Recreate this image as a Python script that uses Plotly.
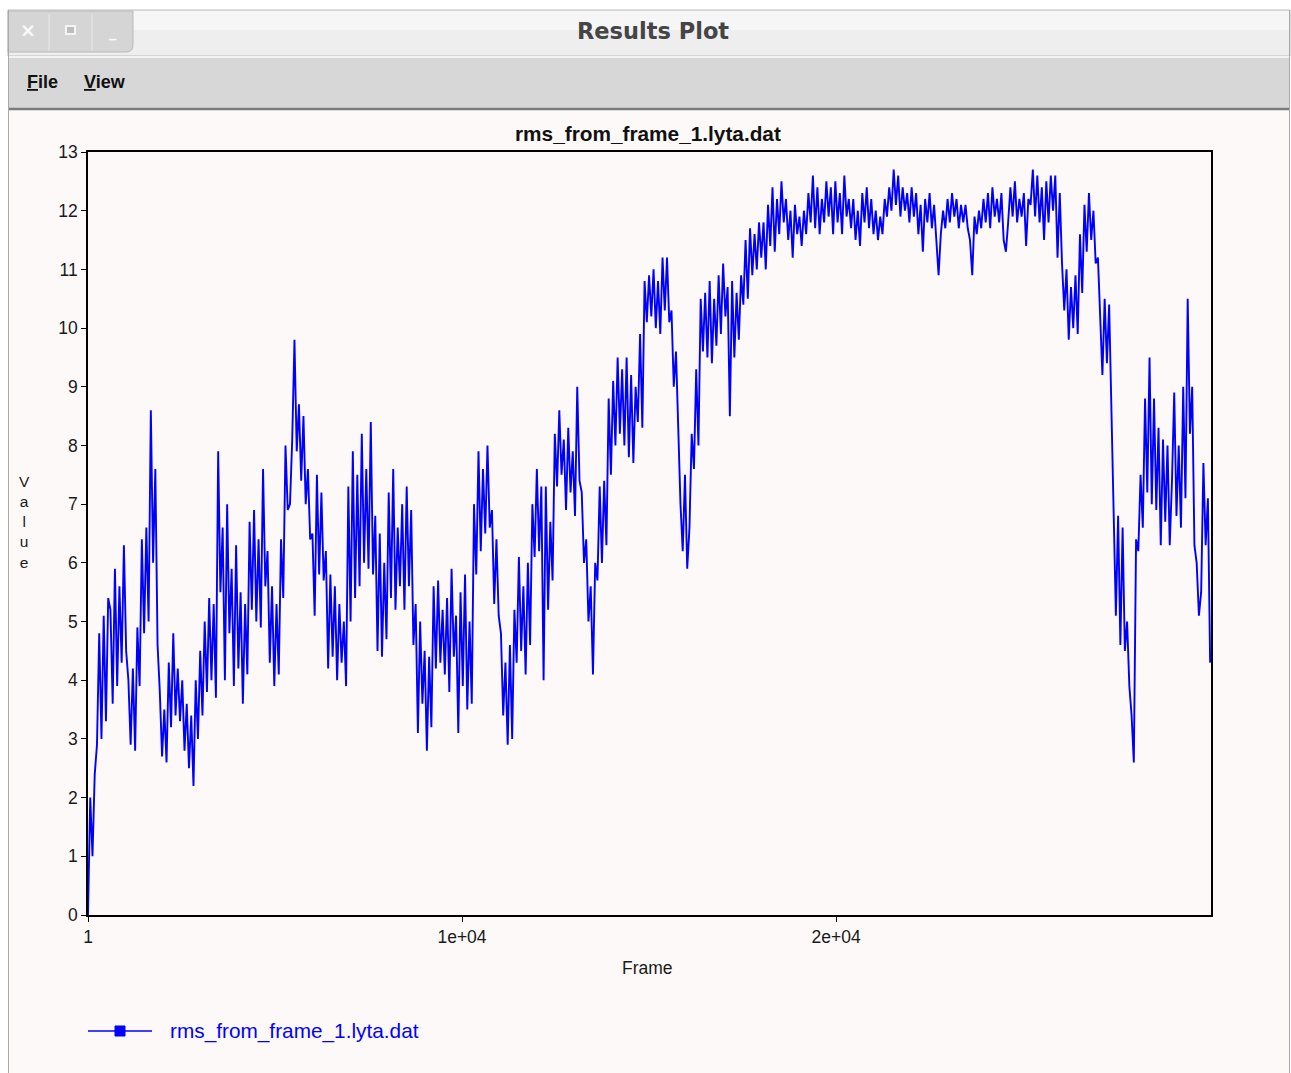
import plotly.graph_objects as go

# ---- data: RMS deviation from frame 1, one sample every 60 frames ----
frame_step = 60
rms_values = [
    0.0, 2.0, 1.0, 2.4, 2.9, 4.8, 3.0, 5.1, 3.3, 5.4,
    5.2, 3.6, 5.9, 3.9, 5.6, 4.3, 6.3, 4.5, 4.0, 2.9,
    4.2, 2.8, 4.9, 3.9, 6.4, 4.8, 6.6, 5.0, 8.6, 6.0,
    7.6, 4.6, 3.8, 2.7, 3.5, 2.6, 4.3, 3.2, 4.8, 3.4,
    4.2, 3.3, 4.0, 2.8, 3.6, 2.5, 3.4, 2.2, 4.0, 3.0,
    4.5, 3.4, 5.0, 3.8, 5.4, 4.0, 5.3, 3.7, 7.9, 5.5,
    6.6, 4.0, 7.0, 4.8, 5.9, 3.9, 6.3, 4.2, 5.5, 3.6,
    5.3, 4.1, 6.7, 5.2, 6.9, 5.0, 6.4, 4.9, 7.6, 5.6,
    6.2, 4.3, 5.6, 3.9, 5.3, 4.1, 6.4, 5.4, 8.0, 6.9,
    7.0, 8.1, 9.8, 7.9, 8.7, 7.4, 8.5, 7.0, 7.6, 6.4,
    6.5, 5.1, 7.5, 5.8, 7.2, 5.7, 6.2, 4.2, 5.8, 4.4,
    5.6, 4.0, 5.3, 4.3, 5.0, 3.9, 7.3, 5.0, 7.9, 5.4,
    7.5, 5.6, 8.2, 6.0, 7.6, 5.9, 8.4, 5.8, 6.8, 4.5,
    6.5, 4.4, 6.0, 4.7, 7.2, 5.4, 7.6, 5.2, 6.6, 5.6,
    7.0, 5.2, 7.3, 5.6, 6.9, 4.6, 5.3, 3.1, 5.0, 3.6,
    4.5, 2.8, 4.4, 3.2, 5.6, 4.2, 5.7, 4.3, 5.2, 4.1,
    5.4, 3.8, 5.9, 4.4, 5.1, 3.1, 5.5, 3.9, 5.8, 3.5,
    5.0, 3.6, 7.0, 5.8, 7.9, 6.2, 7.6, 6.5, 8.0, 6.6,
    6.9, 5.3, 6.4, 5.1, 4.8, 3.4, 4.3, 2.9, 4.6, 3.0,
    5.2, 4.3, 6.1, 4.5, 5.6, 4.1, 6.0, 4.6, 7.0, 6.1,
    7.6, 6.2, 7.3, 4.0, 7.3, 5.2, 6.7, 5.7, 8.2, 7.3,
    8.6, 7.5, 8.1, 6.9, 8.3, 7.2, 7.9, 6.8, 9.0, 7.4,
    7.2, 6.0, 6.4, 5.0, 5.6, 4.1, 6.0, 5.7, 7.3, 6.0,
    7.4, 6.3, 8.8, 7.5, 9.1, 8.0, 9.5, 8.2, 9.3, 8.0,
    9.5, 7.8, 9.2, 7.7, 9.0, 8.4, 9.9, 8.3, 10.8, 10.1,
    10.9, 10.2, 11.0, 10.0, 10.8, 9.9, 11.2, 10.3, 11.2, 10.1,
    10.3, 9.0, 9.6, 8.3, 7.0, 6.2, 7.5, 5.9, 6.6, 8.2,
    7.6, 9.3, 8.0, 10.5, 9.6, 10.6, 9.5, 10.8, 9.4, 10.5,
    9.7, 10.9, 9.9, 11.1, 10.2, 10.7, 8.5, 10.8, 9.5, 10.6,
    9.8, 10.9, 10.4, 11.5, 10.5, 11.7, 10.9, 11.6, 11.0, 11.8,
    11.2, 11.8, 11.0, 12.1, 11.4, 12.4, 11.3, 12.2, 11.6, 12.5,
    11.8, 12.2, 11.5, 12.0, 11.2, 12.1, 11.6, 11.9, 11.4, 12.0,
    11.6, 12.3, 11.8, 12.6, 11.7, 12.4, 11.6, 12.2, 11.8, 12.5,
    11.9, 12.4, 11.6, 12.5, 11.8, 12.3, 11.6, 12.6, 11.9, 12.2,
    11.7, 12.2, 11.5, 12.0, 11.4, 12.3, 11.8, 12.4, 11.7, 12.2,
    11.6, 12.0, 11.5, 11.9, 11.6, 12.2, 11.9, 12.4, 12.0, 12.7,
    12.1, 12.6, 11.9, 12.4, 12.0, 12.3, 11.8, 12.4, 11.9, 12.3,
    11.6, 12.1, 11.3, 12.2, 11.8, 12.3, 11.7, 12.1, 11.4, 10.9,
    11.6, 12.0, 11.7, 12.2, 11.8, 12.3, 11.9, 12.2, 11.7, 12.1,
    11.8, 12.1, 11.7, 11.5, 10.9, 11.9, 11.6, 12.0, 11.7, 12.2,
    11.8, 12.3, 11.7, 12.4, 11.9, 12.2, 11.8, 12.3, 11.5, 11.3,
    11.8, 12.4, 11.9, 12.5, 11.8, 12.2, 11.9, 12.3, 11.4, 12.2,
    12.1, 12.7, 11.9, 12.6, 11.8, 12.4, 11.5, 12.5, 11.8, 12.6,
    12.0, 12.6, 11.2, 12.3, 11.1, 10.3, 11.0, 9.8, 10.7, 10.0,
    10.9, 9.9, 11.6, 10.6, 12.1, 11.3, 12.3, 11.5, 12.0, 11.1,
    11.2, 10.0, 9.2, 10.5, 9.4, 10.4, 8.6, 7.0, 5.1, 6.8,
    4.6, 6.6, 4.5, 5.0, 3.9, 3.4, 2.6, 6.4, 6.2, 7.5,
    6.6, 8.8, 7.2, 9.5, 7.0, 8.8, 6.9, 8.3, 6.3, 8.1,
    6.7, 8.0, 6.3, 7.4, 8.9, 6.8, 8.0, 6.6, 9.0, 7.1,
    10.5, 8.2, 9.0, 6.3, 6.0, 5.1, 5.5, 7.7, 6.3, 7.1,
    4.3,
]
frames = [1 + frame_step * i for i in range(len(rms_values))]

series_name = "rms_from_frame_1.lyta.dat"
x_tick_vals = [1, 10000, 20000]
x_tick_text = ["1", "1e+04", "2e+04"]
y_tick_vals = list(range(0, 14))

# ---- page geometry (pixels) ----
W, H = 1291, 1073
PL, PR, PT, PB = 88, 1211, 152, 915          # plot area edges
PW, PH = PR - PL, PB - PT


def X(px):
    return (px - PL) / PW


def Y(py):
    return (PB - py) / PH


BODY = "#fdf9f9"
LINE_BLUE = "#0000ff"
SANS = "Liberation Sans, Arial, sans-serif"
TICK_FONT = dict(family=SANS, size=17.5, color="#1a1a1a")

fig = go.Figure()
fig.add_trace(go.Scatter(
    x=frames, y=rms_values, mode="lines", name=series_name,
    line=dict(color=LINE_BLUE, width=1.9), showlegend=False,
))

shapes = []


def rect(x0, y0, x1, y1, fill, line_color=None, lw=0, layer="below"):
    shapes.append(dict(type="rect", xref="paper", yref="paper",
                       x0=X(x0), x1=X(x1), y0=Y(y1), y1=Y(y0),
                       fillcolor=fill, layer=layer,
                       line=dict(color=line_color or fill, width=lw)))


def hline(x0, x1, y, color, width=1, layer="below"):
    shapes.append(dict(type="line", xref="paper", yref="paper",
                       x0=X(x0), x1=X(x1), y0=Y(y), y1=Y(y),
                       layer=layer, line=dict(color=color, width=width)))


def vline(x, y0, y1, color, width=1, layer="below"):
    shapes.append(dict(type="line", xref="paper", yref="paper",
                       x0=X(x), x1=X(x), y0=Y(y0), y1=Y(y1),
                       layer=layer, line=dict(color=color, width=width)))


# window body
rect(8, 56, 1290, H + 2, BODY)
# title bar
rect(8, 10, 1290, 56, "#eeeeee", "#bcbcbc", 1)
rect(9, 11, 1289, 30, "#f6f6f6")
# window buttons tab with rounded lower-right corner
tab_path = "M {a},{b} L {c},{b} L {c},{d} Q {c},{e} {f},{e} L {a},{e} Z".format(
    a=X(8), b=Y(11), c=X(133), d=Y(45), e=Y(52), f=X(126))
shapes.append(dict(type="path", xref="paper", yref="paper", path=tab_path,
                   fillcolor="#d5d5d5", layer="below",
                   line=dict(color="#b9b9b9", width=1)))
vline(49, 14, 51, "#e9e9e9")
vline(92, 14, 51, "#e9e9e9")
# maximise box glyph
rect(66, 26, 75, 34, "#bdbdbd", "#f4f4f4", 2)
# menu bar
rect(8, 57, 1290, 108, "#d7d7d7")
hline(8, 1290, 57, "#fbfbfb", 1.5)
hline(8, 1290, 109, "#7c7c7c", 2.5)
# window side borders
vline(8.5, 10, H, "#a9a9a9", 1)
vline(1289.5, 10, H, "#a9a9a9", 1)

# legend symbol: line with square marker
hline(88, 152, 1031, LINE_BLUE, 1.5, layer="above")
rect(115, 1026, 125, 1036, LINE_BLUE, LINE_BLUE, 1, layer="above")

annotations = []


def text(px, py, s, size, color, family=SANS, xanchor="center", yanchor="middle"):
    annotations.append(dict(xref="paper", yref="paper", x=X(px), y=Y(py),
                            text=s, showarrow=False, xanchor=xanchor,
                            yanchor=yanchor,
                            font=dict(family=family, size=size, color=color)))


# window chrome texts
text(653, 31, "<b>Results Plot</b>", 22.5, "#454545", family="DejaVu Sans, sans-serif")
text(28, 30, "<b>×</b>", 19, "#fafafa", family="DejaVu Sans, sans-serif")
text(113, 32, "<b>_</b>", 15, "#fafafa", family="DejaVu Sans, sans-serif")
text(25, 82, "<b><u>F</u>ile</b>", 18, "#111111", xanchor="left")
text(82, 82, "<b><u>V</u>iew</b>", 18, "#111111", xanchor="left")

# plot texts
text(648, 133, "<b>" + series_name + "</b>", 20.8, "#111111")
text(647, 968, "Frame", 17.5, "#1a1a1a")
text(24, 522, "V<br>a<br>l<br>u<br>e", 15.5, "#1a1a1a")
text(168, 1031, series_name, 20.8, LINE_BLUE, xanchor="left")

axis_common = dict(showline=True, mirror=True, linecolor="black", linewidth=1.5,
                   ticks="outside", ticklen=5, tickcolor="black", tickwidth=1,
                   showgrid=False, zeroline=False, tickfont=TICK_FONT,
                   fixedrange=True)

fig.update_layout(
    width=W, height=H, autosize=False,
    margin=dict(l=PL, r=W - PR, t=PT, b=H - PB, pad=0),
    paper_bgcolor="white", plot_bgcolor=BODY,
    xaxis=dict(range=[1, 30024], tickvals=x_tick_vals, ticktext=x_tick_text,
               **axis_common),
    yaxis=dict(range=[0, 13], tickvals=y_tick_vals, **axis_common),
    shapes=shapes, annotations=annotations, showlegend=False,
)

fig.write_html("out.html", config={"displayModeBar": False})
